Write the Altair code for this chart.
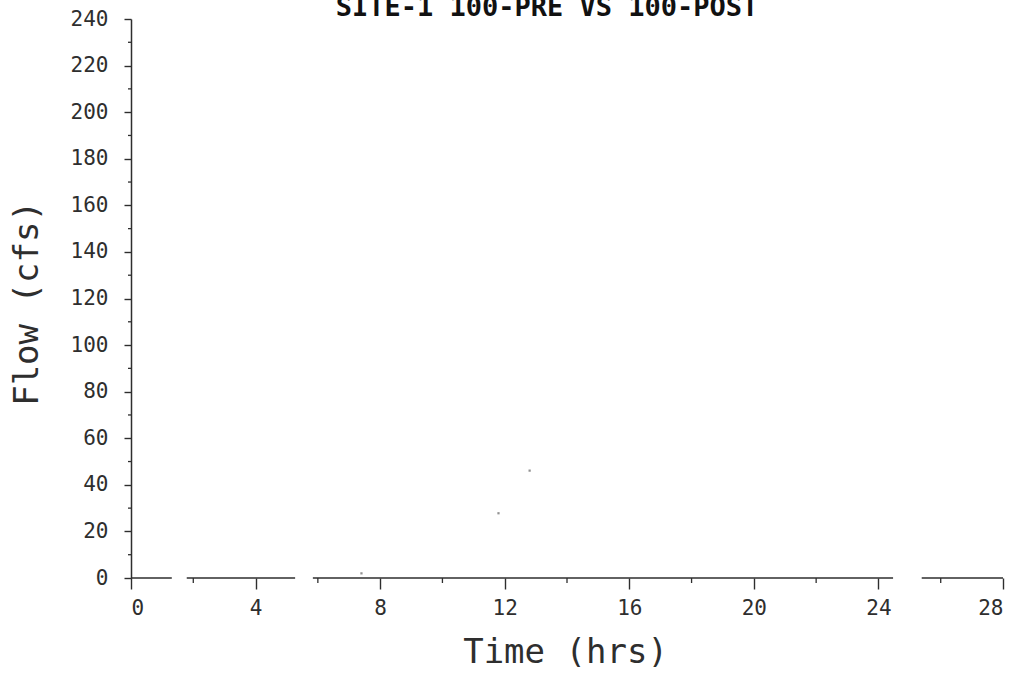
import altair as alt
import pandas as pd

# ---- data ----
title_text = "SITE-1 100-PRE VS 100-POST"
x_title = "Time (hrs)"
y_title = "Flow (cfs)"

x_major_ticks = [0, 4, 8, 12, 16, 20, 24, 28]
x_minor_ticks = [2, 6, 10, 14, 18, 22, 26]
y_major_ticks = [0, 20, 40, 60, 80, 100, 120, 140, 160, 180, 200, 220, 240]
y_minor_ticks = [10, 30, 50, 70, 90, 110, 130, 150, 170, 190, 210, 230]

# faint specks visible in the plot area
speck_time = [7.4, 11.8, 12.8]
speck_flow = [2.0, 27.8, 46.1]

# visible pieces of the (broken) time axis line
axis_seg_start = [0.0, 1.79, 5.84, 25.39]
axis_seg_end = [1.31, 5.27, 24.47, 28.0]

FONT = "DejaVu Sans Mono"
INK = "#2e2e2e"

xs = alt.Scale(domain=[0, 28], nice=False, zero=False)
ys = alt.Scale(domain=[0, 240], nice=False, zero=False)

specks = pd.DataFrame({"t": speck_time, "q": speck_flow})
segs = pd.DataFrame({"a": axis_seg_start, "b": axis_seg_end, "z": [0] * len(axis_seg_start)})
xminor = pd.DataFrame({"t": x_minor_ticks})
yminor = pd.DataFrame({"q": y_minor_ticks})

base_points = alt.Chart(specks).mark_point(
    shape="square", size=5, filled=True, color="#777777", opacity=0.8
).encode(
    x=alt.X("t:Q", scale=xs, axis=alt.Axis(
        values=x_major_ticks, title=x_title, domain=False,
        tickSize=11, tickWidth=1.4, tickColor=INK,
        labelFont=FONT, labelFontSize=21, labelColor=INK, labelPadding=8,
        titleFont=FONT, titleFontSize=34, titleFontWeight="normal", titleColor=INK,
        titleX=434, titleY=84, titleBaseline="alphabetic", titleAlign="center",
        grid=False,
    )),
    y=alt.Y("q:Q", scale=ys, axis=alt.Axis(
        values=y_major_ticks, title=y_title, domainColor=INK, domainWidth=1.5,
        tickSize=7, tickWidth=1.4, tickColor=INK,
        labelFont=FONT, labelFontSize=21, labelColor=INK, labelPadding=16,
        titleFont=FONT, titleFontSize=34, titleFontWeight="normal", titleColor=INK,
        titleX=-94, titleY=284, titleBaseline="alphabetic", titleAlign="center",
        titleAngle=270, grid=False,
    )),
)

axis_line = alt.Chart(segs).mark_rule(color=INK, strokeWidth=1.5).encode(
    x=alt.X("a:Q", scale=xs), x2="b:Q", y=alt.Y("z:Q", scale=ys)
)

x_minor = alt.Chart(xminor).mark_rule(color=INK, strokeWidth=1.3).encode(
    x=alt.X("t:Q", scale=xs), y=alt.value(559), y2=alt.value(564)
)

y_minor = alt.Chart(yminor).mark_rule(color=INK, strokeWidth=1.3).encode(
    y=alt.Y("q:Q", scale=ys), x=alt.value(-3), x2=alt.value(0)
)

title = alt.Chart(pd.DataFrame({"s": [title_text]})).mark_text(
    font=FONT, fontSize=27, fontWeight="bold", color="#111111",
    align="center", baseline="alphabetic"
).encode(text="s:N", x=alt.value(416), y=alt.value(-3))

chart = alt.layer(axis_line, x_minor, y_minor, base_points, title).properties(
    width=872, height=559,
    background="white",
    autosize=alt.AutoSizeParams(type="none"),
    padding={"left": 131, "top": 19, "right": 13, "bottom": 96},
).configure_view(strokeWidth=0, strokeOpacity=0)

chart.save("out.html", embed_options={"renderer": "svg", "actions": False})
